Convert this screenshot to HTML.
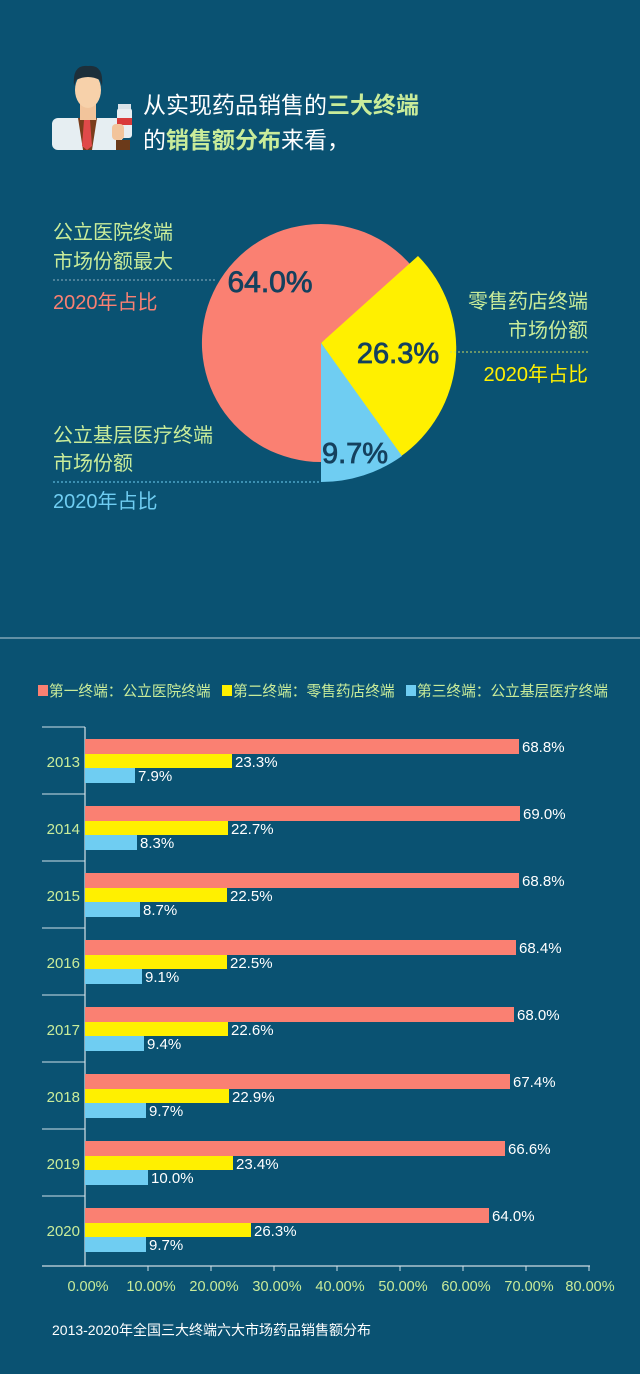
<!DOCTYPE html>
<html><head><meta charset="utf-8"><style>
html,body{margin:0;padding:0;background:#0a5272;}
svg{display:block}
text{font-family:"Liberation Sans","Noto Sans CJK SC",sans-serif;}
</style></head><body>
<svg width="640" height="1374" viewBox="0 0 640 1374" xmlns="http://www.w3.org/2000/svg">
<rect width="640" height="1374" fill="#0a5272"/>
<g>
<rect x="52" y="118" width="70" height="32" rx="6" fill="#e6eef2"/>
<polygon points="78,118 97,118 92,150 83,150" fill="#7a3d1c"/>
<polygon points="84,120 90,120 92,146 87,150 82,146" fill="#e04a4a"/>
<rect x="80" y="100" width="16" height="20" fill="#f2c49b"/>
<ellipse cx="88" cy="90" rx="13" ry="18" fill="#f7d1aa"/>
<path d="M74,86 Q72,64 88,66 Q104,64 102,86 L100,80 Q88,74 76,80 Z" fill="#1d2f3a"/>
<rect x="117" y="108" width="15" height="30" rx="3" fill="#e8eef2"/>
<rect x="118" y="104" width="13" height="5" fill="#d9e2e8"/>
<rect x="117" y="118" width="15" height="7" fill="#d93a3a"/>
<rect x="112" y="124" width="12" height="16" rx="4" fill="#f2c49b"/>
<rect x="116" y="140" width="14" height="10" fill="#6b3a1a"/>
</g>
<text x="143" y="113" font-size="23" fill="#ffffff">从实现药品销售的<tspan fill="#c9ec9a" font-weight="bold">三大终端</tspan></text>
<text x="143" y="148" font-size="23" fill="#ffffff">的<tspan fill="#c9ec9a" font-weight="bold">销售额分布</tspan>来看，</text>

<path d="M321,343 L321,462 A119,119 0 1 1 412.5,267 Z" fill="#fa8072"/>
<path d="M321,343 L418,256 A132,132 0 0 1 400,457 Z" fill="#fff000"/>
<path d="M321,343 L402,456 A139,139 0 0 1 321,482 Z" fill="#6fcdf2"/>
<g fill="#15415e" stroke="#15415e" stroke-width="0.8" text-anchor="middle">
<text x="270" y="292" font-size="30">64.0%</text>
<text x="398" y="363" font-size="29">26.3%</text>
<text x="355" y="463" font-size="29">9.7%</text>
</g>

<text x="53" y="239" font-size="20" fill="#c9ec9a">公立医院终端</text>
<text x="53" y="268" font-size="20" fill="#c9ec9a">市场份额最大</text>
<line x1="53" y1="280" x2="215" y2="280" stroke="#8fb0c0" stroke-dasharray="2,2"/>
<text x="53" y="309" font-size="20" fill="#fa8072">2020年占比</text>

<text x="588" y="308" font-size="20" fill="#c9ec9a" text-anchor="end">零售药店终端</text>
<text x="588" y="337" font-size="20" fill="#c9ec9a" text-anchor="end">市场份额</text>
<line x1="450" y1="352" x2="590" y2="352" stroke="#c9d860" stroke-dasharray="2,2"/>
<text x="588" y="381" font-size="20" fill="#fff000" text-anchor="end">2020年占比</text>

<text x="53" y="442" font-size="20" fill="#c9ec9a">公立基层医疗终端</text>
<text x="53" y="470" font-size="20" fill="#c9ec9a">市场份额</text>
<line x1="53" y1="482" x2="320" y2="482" stroke="#6fcdf2" stroke-dasharray="2,2"/>
<text x="53" y="508" font-size="20" fill="#6fcdf2">2020年占比</text>

<line x1="0" y1="638" x2="640" y2="638" stroke="#b9cfd8" stroke-width="1"/>

<rect x="38" y="685" width="10" height="11" fill="#fa8072"/>
<text x="49" y="696" font-size="14.7" fill="#c9ec9a">第一终端：公立医院终端</text>
<rect x="222" y="685" width="10" height="11" fill="#fff000"/>
<text x="233" y="696" font-size="14.7" fill="#c9ec9a">第二终端：零售药店终端</text>
<rect x="406" y="685" width="10" height="11" fill="#6fcdf2"/>
<text x="417" y="696" font-size="14.7" fill="#c9ec9a">第三终端：公立基层医疗终端</text>

<g font-size="15">
<line x1="85" y1="727" x2="85" y2="1266" stroke="#ffffff" stroke-width="1"/>
<line x1="42" y1="1266" x2="590" y2="1266" stroke="#ffffff" stroke-width="1"/>
<g stroke="#cfe0e8">
<line x1="42" y1="727" x2="85" y2="727"/><line x1="42" y1="794" x2="85" y2="794"/>
<line x1="42" y1="861" x2="85" y2="861"/><line x1="42" y1="928" x2="85" y2="928"/>
<line x1="42" y1="995" x2="85" y2="995"/><line x1="42" y1="1062" x2="85" y2="1062"/>
<line x1="42" y1="1129" x2="85" y2="1129"/><line x1="42" y1="1196" x2="85" y2="1196"/>
<line x1="148" y1="1266" x2="148" y2="1271"/><line x1="211" y1="1266" x2="211" y2="1271"/>
<line x1="274" y1="1266" x2="274" y2="1271"/><line x1="337" y1="1266" x2="337" y2="1271"/>
<line x1="400" y1="1266" x2="400" y2="1271"/><line x1="463" y1="1266" x2="463" y2="1271"/>
<line x1="526" y1="1266" x2="526" y2="1271"/><line x1="589" y1="1266" x2="589" y2="1271"/>
</g>
<g fill="#c9ec9a" font-size="14.5" text-anchor="middle">
<text x="88" y="1291">0.00%</text><text x="151" y="1291">10.00%</text><text x="214" y="1291">20.00%</text>
<text x="277" y="1291">30.00%</text><text x="340" y="1291">40.00%</text><text x="403" y="1291">50.00%</text>
<text x="466" y="1291">60.00%</text><text x="529" y="1291">70.00%</text><text x="590" y="1291">80.00%</text>
</g>
<g fill="#c9ec9a" font-size="15" text-anchor="end">
<text x="80" y="767">2013</text><text x="80" y="834">2014</text><text x="80" y="901">2015</text>
<text x="80" y="968">2016</text><text x="80" y="1035">2017</text><text x="80" y="1102">2018</text>
<text x="80" y="1169">2019</text><text x="80" y="1236">2020</text>
</g>
<g fill="#ffffff" font-size="15">
<rect x="85" y="739" width="434" height="15" fill="#fa8072"/><text x="522" y="752">68.8%</text>
<rect x="85" y="754" width="147" height="14" fill="#fff000"/><text x="235" y="767">23.3%</text>
<rect x="85" y="768" width="50" height="15" fill="#6fcdf2"/><text x="138" y="781">7.9%</text>
<rect x="85" y="806" width="435" height="15" fill="#fa8072"/><text x="523" y="819">69.0%</text>
<rect x="85" y="821" width="143" height="14" fill="#fff000"/><text x="231" y="834">22.7%</text>
<rect x="85" y="835" width="52" height="15" fill="#6fcdf2"/><text x="140" y="848">8.3%</text>
<rect x="85" y="873" width="434" height="15" fill="#fa8072"/><text x="522" y="886">68.8%</text>
<rect x="85" y="888" width="142" height="14" fill="#fff000"/><text x="230" y="901">22.5%</text>
<rect x="85" y="902" width="55" height="15" fill="#6fcdf2"/><text x="143" y="915">8.7%</text>
<rect x="85" y="940" width="431" height="15" fill="#fa8072"/><text x="519" y="953">68.4%</text>
<rect x="85" y="955" width="142" height="14" fill="#fff000"/><text x="230" y="968">22.5%</text>
<rect x="85" y="969" width="57" height="15" fill="#6fcdf2"/><text x="145" y="982">9.1%</text>
<rect x="85" y="1007" width="429" height="15" fill="#fa8072"/><text x="517" y="1020">68.0%</text>
<rect x="85" y="1022" width="143" height="14" fill="#fff000"/><text x="231" y="1035">22.6%</text>
<rect x="85" y="1036" width="59" height="15" fill="#6fcdf2"/><text x="147" y="1049">9.4%</text>
<rect x="85" y="1074" width="425" height="15" fill="#fa8072"/><text x="513" y="1087">67.4%</text>
<rect x="85" y="1089" width="144" height="14" fill="#fff000"/><text x="232" y="1102">22.9%</text>
<rect x="85" y="1103" width="61" height="15" fill="#6fcdf2"/><text x="149" y="1116">9.7%</text>
<rect x="85" y="1141" width="420" height="15" fill="#fa8072"/><text x="508" y="1154">66.6%</text>
<rect x="85" y="1156" width="148" height="14" fill="#fff000"/><text x="236" y="1169">23.4%</text>
<rect x="85" y="1170" width="63" height="15" fill="#6fcdf2"/><text x="151" y="1183">10.0%</text>
<rect x="85" y="1208" width="404" height="15" fill="#fa8072"/><text x="492" y="1221">64.0%</text>
<rect x="85" y="1223" width="166" height="14" fill="#fff000"/><text x="254" y="1236">26.3%</text>
<rect x="85" y="1237" width="61" height="15" fill="#6fcdf2"/><text x="149" y="1250">9.7%</text>
</g>
</g>
<text x="52" y="1335" font-size="14" fill="#ffffff">2013-2020年全国三大终端六大市场药品销售额分布</text>
</svg>
</body></html>
